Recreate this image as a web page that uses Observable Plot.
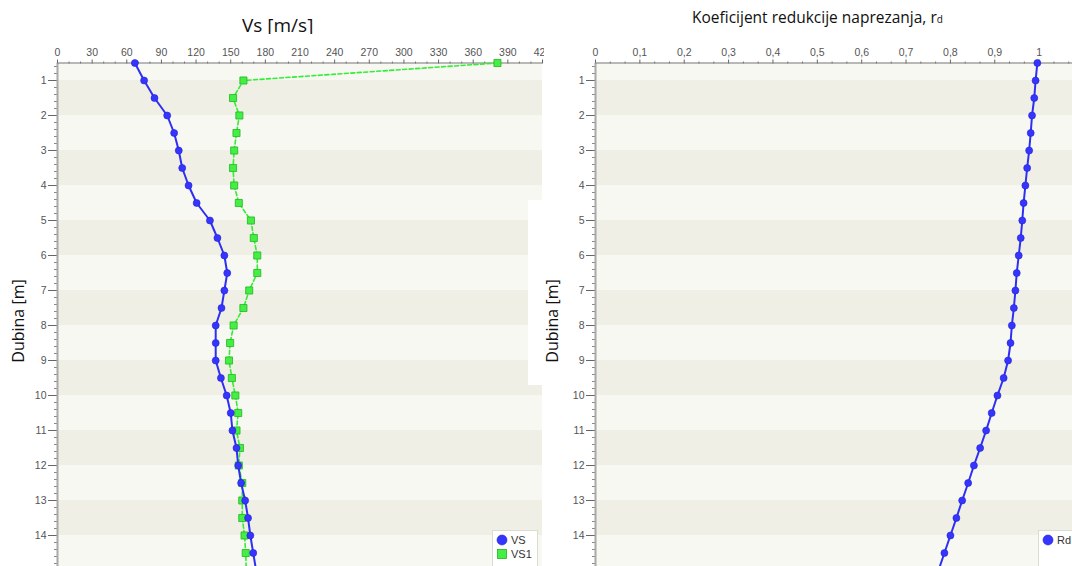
<!DOCTYPE html>
<html>
<head>
<meta charset="utf-8">
<script src="https://cdn.jsdelivr.net/npm/d3@7"></script>
<script src="https://cdn.jsdelivr.net/npm/@observablehq/plot@0.6"></script>
<style>
  html, body { margin: 0; padding: 0; background: #fff; }
  #root { position: relative; width: 1072px; height: 566px; overflow: hidden; background: #fff; }
  .clip { position: absolute; overflow: hidden; }
  .title { position: absolute; font-family: "Open Sans", sans-serif; color: #111; white-space: nowrap; }
  .ylab { position: absolute; font-family: "Open Sans", sans-serif; font-size: 16px; color: #111; white-space: nowrap;
          transform: translate(-50%, -50%) rotate(-90deg); }
  .legend { position: absolute; background: #fff; border: 1px solid #dcdcd0; font-family: "Liberation Sans", sans-serif; font-size: 11px; color: #333; }
  .legend .it { position: absolute; left: 3px; display: flex; align-items: center; height: 12px; }
  .legend svg { margin-right: 3px; }
</style>
</head>
<body>
<div id="root">
  <div class="clip" id="left" style="left:0;top:0;width:544px;height:566px;"></div>
  <div class="clip" id="right" style="left:544px;top:0;width:528px;height:566px;"></div>
  <div class="clip" style="left:0;top:0;width:544px;height:34px;">
    <div class="title" style="left:242px;top:12px;font-size:19px;">Vs [m/s]</div>
  </div>
  <div class="title" style="left:692px;top:6px;font-size:15.5px;">Koeficijent redukcije naprezanja, r<span style="font-size:10px;">d</span></div>
  <div class="ylab" style="left:18px;top:321px;">Dubina [m]</div>
  <div style="position:absolute;left:528px;top:200px;width:16px;height:185px;background:#fff;"></div>
  <div class="ylab" style="left:552px;top:321px;">Dubina [m]</div>
  <div class="legend" id="legL" style="left:492px;top:530px;width:44px;height:40px;"></div>
  <div class="legend" id="legR" style="left:1038px;top:530px;width:40px;height:40px;"></div>
</div>
<script>
// ---- data ----
const depth = [0.5, 1, 1.5, 2, 2.5, 3, 3.5, 4, 4.5, 5, 5.5, 6, 6.5, 7, 7.5, 8, 8.5, 9, 9.5, 10,
               10.5, 11, 11.5, 12, 12.5, 13, 13.5, 14, 14.5, 15];
const vs  = [67, 75, 84, 95, 101, 105, 108, 113.5, 120.5, 132, 138.5, 144.5, 147, 144.5, 142, 137,
             137, 137, 141.5, 146.5, 150, 151.5, 155, 156.5, 159, 162.5, 165, 167, 169.5, 172];
const vs1 = [381, 161, 152, 157.5, 155, 153, 152, 153, 157, 167.5, 170, 173, 173, 166, 161, 152.5,
             149.5, 148.5, 151, 154, 156.5, 155, 158, 157, 160, 160, 160, 162, 163, 163.5];
const rd  = [0.996, 0.992, 0.989, 0.984, 0.981, 0.9775, 0.973, 0.969, 0.965, 0.962, 0.9585, 0.954,
             0.9495, 0.9465, 0.943, 0.9385, 0.9355, 0.930, 0.920, 0.906, 0.893, 0.8805, 0.867, 0.853,
             0.840, 0.8265, 0.8135, 0.800, 0.7865, 0.773];
const vsTicks = [0, 30, 60, 90, 120, 150, 180, 210, 240, 270, 300, 330, 360, 390, 420];
const rdTicks = [0, 0.1, 0.2, 0.3, 0.4, 0.5, 0.6, 0.7, 0.8, 0.9, 1];
const depthTicks = [1, 2, 3, 4, 5, 6, 7, 8, 9, 10, 11, 12, 13, 14];
const bandTop = [1, 3, 5, 7, 9, 11, 13];
const bandBottom = [2, 4, 6, 8, 10, 12, 14];

// ---- tables ----
const rows = depth.map((d, i) => ({depth: d, vs: vs[i], vs1: vs1[i], rd: rd[i]}));
const bands = bandTop.map((t, i) => ({y1: t, y2: bandBottom[i]}));
const minorDepth = d3.range(0.6, 15.01, 0.2).map(v => +v.toFixed(2));

const LIGHT = "#f8f8f3", DARK = "#f0efe5";
const BLUE = "#2f2ff4", GREEN = "#33ee33";
const common = {
  height: 572, marginTop: 62.5, marginBottom: 2,
  style: {fontFamily: "'Liberation Sans', Arial, sans-serif", fontSize: "10.5px", color: "#555",
          maxWidth: "none", overflow: "visible", background: "transparent"}
};
function depthAxes(xmin) {
  return [
    Plot.axisY({anchor: "left", ticks: minorDepth, tickSize: 3, tickFormat: () => "", label: null, stroke: "#888"}),
    Plot.axisY({anchor: "left", ticks: depthTicks, tickSize: 9, tickPadding: 2, label: null, stroke: "#666"}),
    Plot.ruleX([xmin], {stroke: "#a8a8a8", strokeWidth: 2}),
    Plot.ruleY([0.5], {stroke: "#777", strokeWidth: 1})
  ];
}

const left = Plot.plot({
  ...common,
  width: 544, marginLeft: 57, marginRight: 2,
  x: {domain: [0, 420], axis: null},
  y: {domain: [0.5, 15], reverse: true, axis: null},
  marks: [
    Plot.rect([0], {x1: 0, x2: 420, y1: 0.5, y2: 15, fill: LIGHT}),
    Plot.rect(bands, {x1: 0, x2: 420, y1: "y1", y2: "y2", fill: DARK}),
    Plot.axisX({anchor: "top", ticks: d3.range(10, 420, 10).filter(v => v % 30), tickSize: 2, tickFormat: () => "", label: null, stroke: "#777"}),
    Plot.axisX({anchor: "top", ticks: vsTicks, tickSize: 4, tickPadding: 3, label: null, stroke: "#666"}),
    ...depthAxes(0),
    Plot.line(rows, {x: "vs1", y: "depth", stroke: GREEN, strokeWidth: 1.6, strokeDasharray: "4,2.5"}),
    Plot.dot(rows, {x: "vs1", y: "depth", symbol: "square", r: 4, fill: "#44ee44", stroke: "#22b522", strokeWidth: 0.8}),
    Plot.line(rows, {x: "vs", y: "depth", stroke: BLUE, strokeWidth: 2}),
    Plot.dot(rows, {x: "vs", y: "depth", r: 3.5, fill: "#3535ff", stroke: "#2222cc", strokeWidth: 0.6})
  ]
});
document.getElementById("left").appendChild(left);

const right = Plot.plot({
  ...common,
  width: 546, marginLeft: 51, marginRight: 7,
  x: {domain: [0, 1.1], axis: null},
  y: {domain: [0.5, 15], reverse: true, axis: null},
  marks: [
    Plot.rect([0], {x1: 0, x2: 1.1, y1: 0.5, y2: 15, fill: LIGHT}),
    Plot.rect(bands, {x1: 0, x2: 1.1, y1: "y1", y2: "y2", fill: DARK}),
    Plot.axisX({anchor: "top", ticks: d3.range(1, 33).filter(v => v % 3).map(v => v / 30), tickSize: 2, tickFormat: () => "", label: null, stroke: "#777"}),
    Plot.axisX({anchor: "top", ticks: rdTicks, tickSize: 4, tickPadding: 3, label: null, stroke: "#666",
                tickFormat: v => String(v).replace(".", ",")}),
    ...depthAxes(0),
    Plot.line(rows, {x: "rd", y: "depth", stroke: BLUE, strokeWidth: 2}),
    Plot.dot(rows, {x: "rd", y: "depth", r: 3.5, fill: "#3535ff", stroke: "#2222cc", strokeWidth: 0.6})
  ]
});
document.getElementById("right").appendChild(right);

// ---- legends ----
function item(sym, label, top) {
  const s = sym === "circle"
    ? `<svg width="12" height="12"><circle cx="6" cy="6" r="5" fill="#3535ff" stroke="#2222cc" stroke-width="0.6"/></svg>`
    : `<svg width="12" height="12"><rect x="1.5" y="1.5" width="9" height="9" fill="#44ee44" stroke="#22b522" stroke-width="0.8"/></svg>`;
  return `<div class="it" style="top:${top}px">${s}<span>${label}</span></div>`;
}
document.getElementById("legL").innerHTML = item("circle", "VS", 3) + item("square", "VS1", 17);
document.getElementById("legR").innerHTML = item("circle", "Rd", 3);
</script>
</body>
</html>
